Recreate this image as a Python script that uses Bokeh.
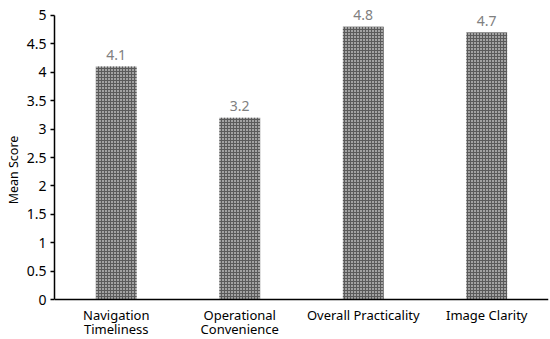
from bokeh.plotting import figure
from bokeh.models import ColumnDataSource, FixedTicker, Range1d, LabelSet, Span
from bokeh.core.properties import value
from bokeh.embed import file_html
from bokeh.resources import INLINE

categories = ["Navigation\nTimeliness", "Operational\nConvenience", "Overall Practicality", "Image Clarity"]
scores = [4.1, 3.2, 4.8, 4.7]
score_labels = ["4.1", "3.2", "4.8", "4.7"]
y_ticks = [0, 0.5, 1, 1.5, 2, 2.5, 3, 3.5, 4, 4.5, 5]

line1 = [c.split("\n")[0] for c in categories]
line2 = [c.split("\n")[1] if "\n" in c else "" for c in categories]

src = ColumnDataSource(dict(cat=categories, val=scores, lab=score_labels,
                            l1=line1, l2=line2, zero=[0] * len(categories)))

# frame spans the full canvas height; value 0 sits at 299px and 5 at 15px
p = figure(x_range=categories, y_range=Range1d(-0.704, 5.264), width=550, height=339,
           output_backend="svg", toolbar_location=None,
           min_border_left=54, min_border_right=2, min_border_top=0, min_border_bottom=0)
p.outline_line_color = None
p.xgrid.grid_line_color = None
p.ygrid.grid_line_color = None
p.x_range.range_padding = 0

p.vbar(x="cat", top="val", width=0.33, source=src, fill_color="#a2a2a2", line_color=None,
       hatch_pattern="cross", hatch_color="#5a5a5a", hatch_scale=3, hatch_weight=1)

font = value("Noto Sans")
labels = LabelSet(x="cat", y="val", text="lab", source=src, text_align="center",
                  text_baseline="bottom", y_offset=7, text_font_size=value("14px"),
                  text_color="#808080", text_font=font)
p.add_layout(labels)

cat1 = LabelSet(x="cat", y="zero", text="l1", source=src, text_align="center",
                text_baseline="middle", y_offset=-15, text_font_size=value("13px"),
                text_color="black", text_font=font)
cat2 = LabelSet(x="cat", y="zero", text="l2", source=src, text_align="center",
                text_baseline="middle", y_offset=-29, text_font_size=value("13px"),
                text_color="black", text_font=font)
p.add_layout(cat1)
p.add_layout(cat2)

p.xaxis.visible = False
p.add_layout(Span(location=0, dimension="width", line_color="black", line_width=1.5))

p.yaxis.bounds = (0, 5)
p.yaxis.ticker = FixedTicker(ticks=y_ticks)
p.yaxis.axis_label = "Mean Score"
p.yaxis.axis_label_text_font = "Noto Sans"
p.yaxis.axis_label_text_font_style = "normal"
p.yaxis.axis_label_text_font_size = "12.5px"
p.yaxis.axis_label_text_color = "black"
p.yaxis.axis_label_standoff = 2
p.yaxis.major_label_text_font = "Noto Sans"
p.yaxis.major_label_text_font_size = "14px"
p.yaxis.major_label_text_color = "black"
p.yaxis.major_label_standoff = 4
p.yaxis.major_tick_in = 0
p.yaxis.major_tick_out = 4
p.yaxis.major_tick_line_width = 1.5
p.yaxis.minor_tick_line_color = None
p.yaxis.axis_line_color = "black"
p.yaxis.axis_line_width = 1.5

open("out.html", "w").write(file_html(p, INLINE))
